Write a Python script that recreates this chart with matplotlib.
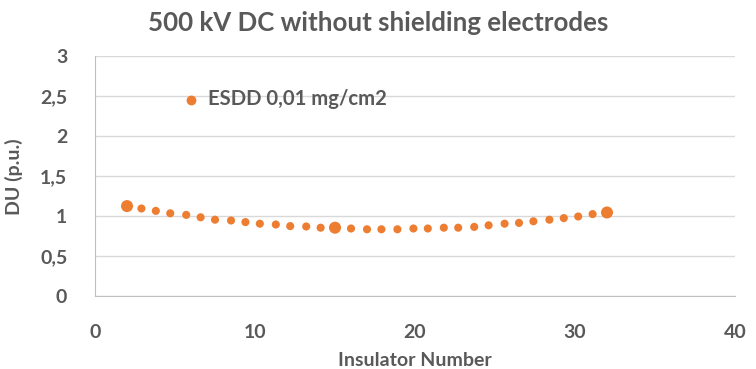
import matplotlib
matplotlib.use("Agg")
import matplotlib.pyplot as plt
import numpy as np

# insulator positions and DU values
insulator = [2, 2.9, 3.8, 4.7, 5.7, 6.6, 7.5, 8.5, 9.4, 10.3, 11.3, 12.2, 13.2,
             14.1, 15, 16, 17, 17.9, 18.9, 19.9, 20.8, 21.8, 22.7, 23.7, 24.6,
             25.6, 26.5, 27.4, 28.4, 29.3, 30.2, 31.1, 32]
du = [1.13, 1.10, 1.07, 1.04, 1.02, 0.99, 0.96, 0.95, 0.93, 0.91, 0.90, 0.88,
      0.875, 0.86, 0.86, 0.85, 0.84, 0.84, 0.84, 0.85, 0.85, 0.86, 0.86, 0.87,
      0.89, 0.91, 0.92, 0.94, 0.96, 0.98, 1.00, 1.03, 1.05]
highlighted = [2, 15, 32]  # points drawn with bigger markers
series_name = "ESDD 0,01 mg/cm2"

orange = "#ED7D31"
gray = "#595959"
plt.rcParams['font.family'] = ['Lato', 'DejaVu Sans']

fig = plt.figure(figsize=(7.56, 3.69), dpi=100)
ax = fig.add_axes([0.1257, 0.1965, 0.8465, 0.6504])

sizes = [75 if x in highlighted else 34 for x in insulator]
ax.scatter(insulator, du, s=sizes, color=orange, linewidths=0, zorder=3)
# legend handle
h = ax.scatter([], [], s=50, color=orange, linewidths=0)

ax.set_xlim(0, 40)
ax.set_ylim(0, 3)
ax.set_xticks([0, 10, 20, 30, 40])
ax.set_yticks(np.arange(0, 3.01, 0.5))
ax.set_yticklabels(["0", "0,5", "1", "1,5", "2", "2,5", "3"])
ax.grid(axis='y', color="#d9d9d9", linewidth=1)
ax.set_axisbelow(True)
for s in ['top', 'right']:
    ax.spines[s].set_visible(False)
for s in ['left', 'bottom']:
    ax.spines[s].set_color("#bfbfbf")
ax.tick_params(length=0, labelsize=14, labelcolor=gray, pad=20)
for lab in ax.get_xticklabels() + ax.get_yticklabels():
    lab.set_fontweight('bold')

ax.set_xlabel("Insulator Number", fontsize=14, fontweight='bold', color=gray, labelpad=8)
ax.set_ylabel("DU (p.u.)", fontsize=14, fontweight='bold', color=gray, labelpad=12)
fig.suptitle("500 kV DC without shielding electrodes", fontsize=18.6,
             fontweight='bold', color=gray, y=0.97)

ax.legend([h], [series_name], loc='center left', bbox_to_anchor=(0.119, 0.823),
          frameon=False, handletextpad=0.3, borderpad=0, handlelength=1.0,
          prop={'size': 14.6, 'weight': 'bold'}, labelcolor=gray)

fig.savefig("out.png", dpi=100)
